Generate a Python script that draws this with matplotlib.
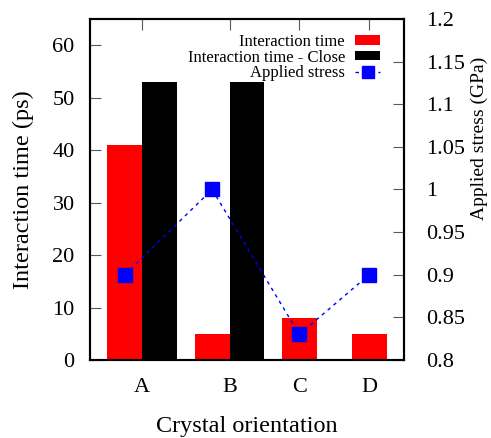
import numpy as np
import matplotlib
matplotlib.use("Agg")
import matplotlib.pyplot as plt
from matplotlib.patches import Patch
from matplotlib.lines import Line2D
from matplotlib.ticker import FuncFormatter, MultipleLocator

plt.rcParams['font.family'] = ['Liberation Serif', 'DejaVu Serif']

# ---- data ----
categories = ['A', 'B', 'C', 'D']
interaction_time = [41, 5, 8, 5]                 # ps
interaction_close = [53, 53, np.nan, np.nan]     # ps (no value for C, D)
applied_stress = [0.9, 1.0, 0.83, 0.9]           # GPa
labels = ['Interaction time', 'Interaction time - Close', 'Applied stress']

# ---- layout (category tick positions on the x axis) ----
xpos = np.array([0.0, 2.5, 4.5, 6.5])
bar_w = 1.0
has_close = ~np.isnan(np.array(interaction_close, dtype=float))
red_x = np.where(has_close, xpos - bar_w / 2, xpos)
black_x = xpos + bar_w / 2

fig = plt.figure(figsize=(4.91, 4.38), dpi=100)
ax = fig.add_axes([90/491, 78/438, 314/491, 341/438])
ax2 = ax.twinx()

ax.bar(red_x, interaction_time, width=bar_w, color='#ff0000', edgecolor='none', zorder=2)
ax.bar(black_x[has_close], np.array(interaction_close)[has_close], width=bar_w,
       color='black', edgecolor='none', zorder=2)

ax2.plot(red_x, applied_stress, color='#0000ff', lw=1.0, ls=(0, (2.5, 3)),
         marker='s', markersize=9.5, markerfacecolor='#0000ff', markeredgecolor='#0000ff')

ax.set_xlim(-1.5, 7.5)
ax.set_ylim(0, 65)
ax2.set_ylim(0.8, 1.2)

ax.set_xticks(xpos)
ax.set_xticklabels(categories)
ax.yaxis.set_major_locator(MultipleLocator(10))
ax2.yaxis.set_major_locator(MultipleLocator(0.05))
ax2.yaxis.set_major_formatter(FuncFormatter(lambda v, p: f"{v:g}"))

tick_col = '0.35'
ax.tick_params(axis='x', direction='in', bottom=False, top=True, labelbottom=True,
               labeltop=False, length=8, width=0.8, color=tick_col, labelsize=16, pad=13)
ax.tick_params(axis='y', direction='in', left=True, right=False, length=8, width=0.8,
               color=tick_col, labelsize=16, pad=11)
ax2.tick_params(axis='y', direction='in', right=True, left=False, length=8, width=0.8,
                color=tick_col, labelsize=16, pad=16)

for a in (ax, ax2):
    for s in a.spines.values():
        s.set_linewidth(1.5)
        s.set_color('black')

ax.set_xlabel('Crystal orientation', fontsize=17.5)
ax.xaxis.set_label_coords(0.5, (360-432)/341)
ax.xaxis.label.set_va('baseline')
ax.set_ylabel('Interaction time (ps)', fontsize=17.5)
ax.yaxis.set_label_coords((23-90)/314, 0.5)
ax.yaxis.label.set_va('center')
ax2.set_ylabel('Applied stress (GPa)', fontsize=14)
ax2.yaxis.set_label_coords((479-90)/314, (360-138)/341)
ax2.yaxis.label.set_va('center')

handles = [Patch(facecolor='#ff0000', edgecolor='none'),
           Patch(facecolor='black', edgecolor='none'),
           Line2D([], [], color='#0000ff', lw=1.0, ls=(0, (2.5, 3)), marker='s',
                  markersize=8.5, markerfacecolor='#0000ff', markeredgecolor='#0000ff')]
leg = ax2.legend(handles, labels, loc='upper right',
                 bbox_to_anchor=((380-90)/314, (360-34)/341),
                 frameon=False, markerfirst=False, fontsize=12, borderpad=0,
                 borderaxespad=0, handlelength=1.5, handleheight=0.5,
                 handletextpad=0.6, labelspacing=-0.03)

fig.savefig('out.png', dpi=100)
